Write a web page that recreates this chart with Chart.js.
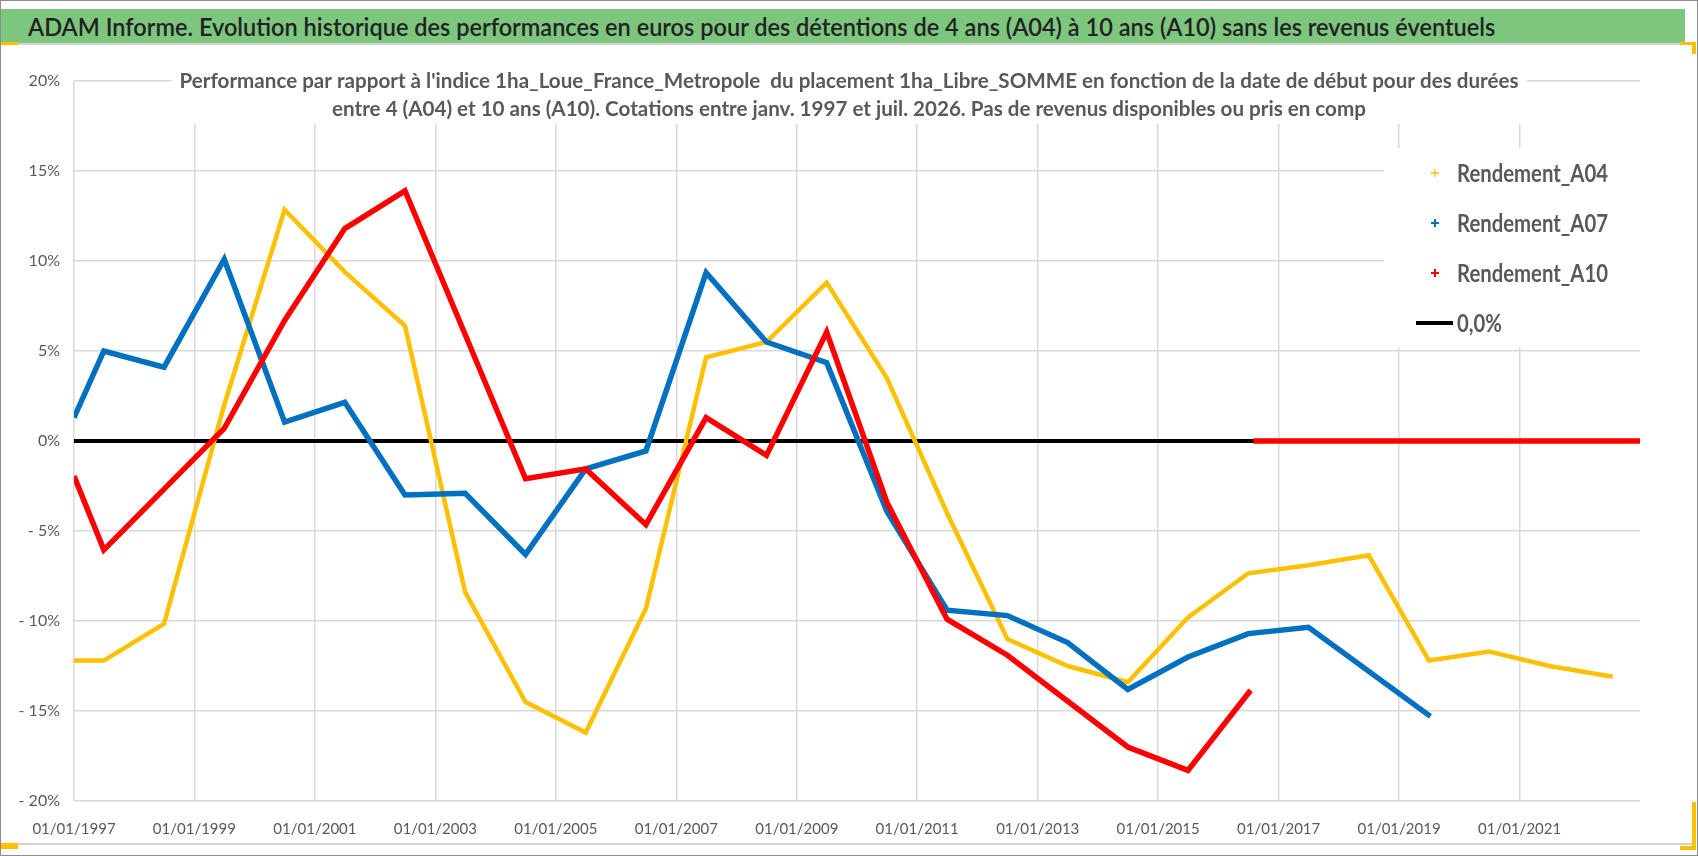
<!DOCTYPE html>
<html lang="fr">
<head>
<meta charset="utf-8">
<title>ADAM Informe - performances A04 à A10</title>
<script src="https://cdn.jsdelivr.net/npm/chart.js@4.4.1/dist/chart.umd.min.js"></script>
<style>
    html, body { margin: 0; padding: 0; background: #fff; }
    #page { position: relative; width: 1698px; height: 856px; overflow: hidden; font-family: Lato, "Open Sans", sans-serif; }
    #frame { position: absolute; left: 0; top: 0; width: 1696px; height: 854px; border: 1px solid #8c8c8c; }
    #header { position: absolute; left: 1px; top: 9px; width: 1684px; height: 34px; background: #7cc67e; }
    #headerText { position: absolute; left: 27px; top: 0; line-height: 34px; font-size: 25px; font-weight: 600; color: #222; white-space: nowrap; transform-origin: 0 50%; }
    #headerLine { position: absolute; left: 1px; top: 43px; width: 1694px; height: 2px; background: #d4d4d4; }
    #chartBox { position: absolute; left: 0; top: 45px; width: 1698px; height: 798px; }
    #chartLine { position: absolute; left: 1px; top: 843px; width: 1694px; height: 2px; background: #d4d4d4; }
    .handle { position: absolute; background: #ffc000; }
</style>
</head>
<body>
<div id="page">
    <div id="frame"></div>
    <div id="header"><span id="headerText">ADAM Informe. Evolution historique des performances en euros pour des détentions de 4 ans (A04) à 10 ans (A10) sans les revenus éventuels</span></div>
    <div id="headerLine"></div>
    <div id="chartBox"><canvas id="perfChart" width="1698" height="798"></canvas></div>
    <div id="chartLine"></div>
    <!-- poignées de sélection du graphique -->
    <div class="handle" style="left:1px;top:42px;width:17px;height:3px"></div>
    <div class="handle" style="left:1px;top:843px;width:17px;height:6px"></div>
    <div class="handle" style="left:1680px;top:42px;width:16px;height:3px"></div>
    <div class="handle" style="left:1692px;top:42px;width:4px;height:12px"></div>
    <div class="handle" style="left:1692px;top:802px;width:4px;height:48px"></div>
    <div class="handle" style="left:1680px;top:846px;width:16px;height:4px"></div>
</div>
<script>
// Dates de début (sommets) et rendements en %
const datesA04 = [
    '1997-01-01', '1997-07-01', '1998-07-01', '1999-07-01', '2000-07-01', '2001-07-01',
    '2002-07-01', '2003-07-01', '2004-07-01', '2005-07-01', '2006-07-01', '2007-07-01',
    '2008-07-01', '2009-07-01', '2010-07-01', '2011-07-01', '2012-07-01', '2013-07-01',
    '2014-07-01', '2015-07-01', '2016-07-01', '2017-07-01', '2018-07-01', '2019-07-01',
    '2020-07-01', '2021-07-01', '2022-07-20'
];
const valuesA04 = [
    -12.2, -12.2, -10.15, 2.0, 12.85, 9.4,
    6.4, -8.4, -14.5, -16.2, -9.3, 4.65,
    5.5, 8.8, 3.5, -4.0, -11.0, -12.5,
    -13.4, -9.8, -7.35, -6.9, -6.35, -12.2,
    -11.7, -12.5, -13.1
];

const datesA07 = [
    '1997-01-01', '1997-07-01', '1998-07-01', '1999-07-01', '2000-07-01', '2001-07-01',
    '2002-07-01', '2003-07-01', '2004-07-01', '2005-07-01', '2006-07-01', '2007-07-01',
    '2008-07-01', '2009-07-01', '2010-07-01', '2011-07-01', '2012-07-01', '2013-07-01',
    '2014-07-01', '2015-07-01', '2016-07-01', '2017-07-01', '2019-07-10'
];
const valuesA07 = [
    1.3, 5.0, 4.1, 10.1, 1.05, 2.15,
    -3.0, -2.9, -6.3, -1.55, -0.55, 9.35,
    5.5, 4.35, -3.9, -9.4, -9.7, -11.2,
    -13.8, -12.0, -10.7, -10.35, -15.3
];

// A10 : plus de cotation après mi-2016, valeurs à 0 jusqu'au bout de l'axe
const datesA10 = [
    '1997-01-01', '1997-07-01', '1999-07-01', '2000-07-01', '2001-07-01', '2002-07-01',
    '2004-07-01', '2005-07-01', '2006-07-01', '2007-07-01', '2008-07-01', '2009-07-01',
    '2010-07-01', '2011-07-01', '2012-07-01', '2014-07-01', '2015-07-01', '2016-07-15',
    '2016-07-25', '2016-08-01', '2023-01-01'
];
const valuesA10 = [
    -1.95, -6.05, 0.7, 6.7, 11.8, 13.9,
    -2.1, -1.55, -4.65, 1.3, -0.8, 6.05,
    -3.4, -9.9, -11.9, -17.0, -18.3, -13.85,
    null, 0, 0
];

const datesZero = ['1997-01-01', '2023-01-01'];
const valuesZero = [0, 0];

const tickYears = [1997, 1999, 2001, 2003, 2005, 2007, 2009, 2011, 2013, 2015, 2017, 2019, 2021];
const yTicks = [-20, -15, -10, -5, 0, 5, 10, 15, 20];

const seriesLabels = ['Rendement_A04', 'Rendement_A07', 'Rendement_A10', '0,0%'];
const seriesColors = ['#ffc000', '#0070c0', '#ff0000', '#000000'];

const titleLines = [
    "Performance par rapport à l'indice 1ha_Loue_France_Metropole  du placement 1ha_Libre_SOMME en fonction de la date de début pour des durées",
    "entre 4 (A04) et 10 ans (A10). Cotations entre janv. 1997 et juil. 2026. Pas de revenus disponibles ou pris en comp"
];

const FONT = 'Lato, "Open Sans", sans-serif';
const GREY_TEXT = '#595959';

function toTime(d) {
    return Date.parse(d + 'T00:00:00Z');
}

function toPoints(dates, values) {
    return dates.map((d, i) => ({ x: toTime(d), y: values[i] }));
}

// ajuste le texte d'en-tête sur la largeur de la maquette
const headerText = document.getElementById('headerText');
headerText.style.transform = 'scaleX(' + (1467 / headerText.offsetWidth) + ')';

// texte écrit avec une compression horizontale
function fillScaled(ctx, text, x, y, sx, align) {
    ctx.save();
    ctx.translate(x, y);
    ctx.scale(sx, 1);
    ctx.textAlign = align;
    ctx.fillText(text, 0, 0);
    ctx.restore();
}

// Titre posé sur le haut de la zone de tracé, avec fond blanc
const titlePlugin = {
    id: 'overlayTitle',
    afterDraw(chart) {
        const ctx = chart.ctx;
        const cx = chart.width / 2;
        ctx.save();
        ctx.font = 'bold 21px ' + FONT;
        ctx.textBaseline = 'middle';
        const sx = 1339 / ctx.measureText(titleLines[0]).width;
        ctx.fillStyle = '#ffffff';
        ctx.fillRect(cx - 1339 / 2 - 8, 21, 1339 + 16, 58);
        ctx.fillStyle = GREY_TEXT;
        fillScaled(ctx, titleLines[0], cx, 36, sx, 'center');
        fillScaled(ctx, titleLines[1], cx, 64, sx, 'center');
        ctx.restore();
    }
};

// Légende à l'intérieur du graphique, en haut à droite
const legendPlugin = {
    id: 'insideLegend',
    afterDraw(chart) {
        const ctx = chart.ctx;
        const area = chart.chartArea;
        const boxLeft = area.right - 256;
        const boxTop = area.top + 67;
        ctx.save();
        ctx.fillStyle = '#ffffff';
        ctx.fillRect(boxLeft, boxTop, area.right - boxLeft, 199);
        ctx.font = 'bold 24px ' + FONT;
        ctx.textBaseline = 'middle';
        const sx = 151 / ctx.measureText(seriesLabels[0]).width;
        seriesLabels.forEach((label, i) => {
            const y = boxTop + 25 + i * 50;
            const mx = boxLeft + 51;
            ctx.strokeStyle = seriesColors[i];
            if (i < 3) {
                ctx.lineWidth = i === 0 ? 1.3 : 2;
                ctx.beginPath();
                ctx.moveTo(mx - 4, y); ctx.lineTo(mx + 4, y);
                ctx.moveTo(mx, y - 4); ctx.lineTo(mx, y + 4);
                ctx.stroke();
            } else {
                ctx.lineWidth = 4;
                ctx.beginPath();
                ctx.moveTo(boxLeft + 32, y); ctx.lineTo(boxLeft + 69, y);
                ctx.stroke();
            }
            ctx.fillStyle = GREY_TEXT;
            fillScaled(ctx, label, boxLeft + 73, y + 1, sx, 'left');
        });
        ctx.restore();
    }
};

function lineDataset(index, dates, values, width, order) {
    return {
        label: seriesLabels[index],
        data: toPoints(dates, values),
        borderColor: seriesColors[index],
        backgroundColor: seriesColors[index],
        borderWidth: width,
        pointRadius: 0,
        pointStyle: 'cross',
        tension: 0,
        spanGaps: false,
        order: order
    };
}

const perfChart = new Chart(document.getElementById('perfChart').getContext('2d'), {
    type: 'line',
    data: {
        datasets: [
            lineDataset(0, datesA04, valuesA04, 4.5, 3),
            lineDataset(1, datesA07, valuesA07, 5.5, 2),
            lineDataset(2, datesA10, valuesA10, 5.5, 1),
            lineDataset(3, datesZero, valuesZero, 4, 4)
        ]
    },
    options: {
        responsive: false,
        animation: false,
        layout: { padding: { top: 36, right: 58, left: 0, bottom: 0 } },
        plugins: {
            legend: { display: false },
            title: { display: false },
            tooltip: { enabled: false }
        },
        scales: {
            x: {
                type: 'linear',
                min: toTime('1997-01-01'),
                max: toTime('2023-01-01'),
                afterBuildTicks: axis => {
                    axis.ticks = tickYears.map(y => ({ value: Date.UTC(y, 0, 1) }));
                },
                afterFit: axis => { axis.height = 42; },
                grid: { color: '#d9d9d9', lineWidth: 1.5, drawTicks: false },
                border: { display: false },
                ticks: {
                    autoSkip: false,
                    maxRotation: 0,
                    padding: 19,
                    color: GREY_TEXT,
                    font: { family: FONT, size: 15 },
                    callback: value => '01/01/' + new Date(value).getUTCFullYear()
                }
            },
            y: {
                min: -20,
                max: 20,
                afterBuildTicks: axis => {
                    axis.ticks = yTicks.map(v => ({ value: v }));
                },
                afterFit: axis => { axis.width = 74; },
                grid: { color: '#d9d9d9', lineWidth: 1.5, drawTicks: false },
                border: { display: false },
                ticks: {
                    padding: 14,
                    color: GREY_TEXT,
                    font: { family: FONT, size: 16 },
                    callback: v => v < 0 ? '- ' + Math.abs(v) + '%' : v + '%'
                }
            }
        }
    },
    plugins: [titlePlugin, legendPlugin]
});
</script>
</body>
</html>
